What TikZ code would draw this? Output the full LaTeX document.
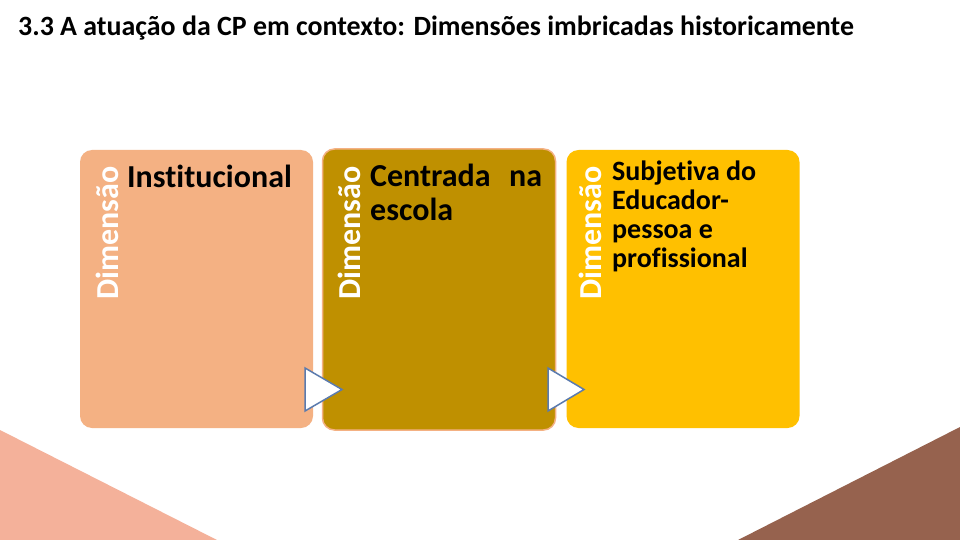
\documentclass[tikz,border=0pt]{standalone}
\usepackage{fontspec}
\setmainfont{Carlito}[Ligatures=NoCommon]
\definecolor{peach}{HTML}{F4B183}
\definecolor{goldc}{HTML}{BF9000}
\definecolor{amber}{HTML}{FFC000}
\definecolor{salmon}{HTML}{F4B19A}
\definecolor{brownc}{HTML}{96624E}
\definecolor{tristroke}{HTML}{5B7BAE}
\begin{document}
\begin{tikzpicture}[x=1pt,y=-1pt,
  box/.style={rounded corners=12pt, inner sep=0pt, minimum width=233pt, minimum height=278pt},
  dimtext/.style={rotate=90, anchor=base west, inner sep=0pt, text=white, font=\bfseries\fontsize{32}{34}\selectfont},
  bigtext/.style={anchor=base west, inner sep=0pt, text=black, font=\bfseries\fontsize{32}{34}\selectfont},
  smalltext/.style={anchor=base west, inner sep=0pt, text=black, font=\bfseries\fontsize{28}{29}\selectfont},
  tri/.style={fill=white, draw=tristroke, line width=1.5pt, line join=miter}
]
\fill[white] (0,0) rectangle (960,540);
\useasboundingbox (0,0) rectangle (960,540);

% corner triangles
\fill[salmon] (0,430) -- (217,540) -- (0,540) -- cycle;
\fill[brownc] (960,427) -- (960,540) -- (738,540) -- cycle;

% title
\node[anchor=base west, inner sep=0pt, font=\bfseries\fontsize{27.9}{32}\selectfont] (title) at (18,36)
  {3.3 A atuação da CP em contexto: Dimensões imbricadas historicamente};

% boxes
\node[box, fill=peach] (b1) at (196.5,289) {};
\node[box, fill=goldc, draw=peach, line width=1.5pt, minimum height=281pt] (b2) at (439,289.5) {};
\node[box, fill=amber] (b3) at (683,289) {};

% triangles
\draw[tri] (305,368) -- (305,411) -- (342,389.5) -- cycle;
\draw[tri] (548,368) -- (548,411) -- (584,389.5) -- cycle;

% vertical labels
\node[dimtext] (d1) at (118,300) {Dimensão};
\node[dimtext] (d2) at (360,300) {Dimensão};
\node[dimtext] (d3) at (601,300) {Dimensão};

% box texts
\node[bigtext] (t1) at (127,187) {Institucional};
\node[bigtext] (t2a) at (370,186) {\makebox[172pt][s]{Centrada na}};
\node[bigtext] (t2b) at (370,220) {escola};
\node[smalltext] (t3a) at (612,180) {Subjetiva do};
\node[smalltext] (t3b) at (612,209) {Educador-};
\node[smalltext] (t3c) at (612,238) {pessoa e};
\node[smalltext] (t3d) at (612,267) {profissional};
\end{tikzpicture}
\end{document}
